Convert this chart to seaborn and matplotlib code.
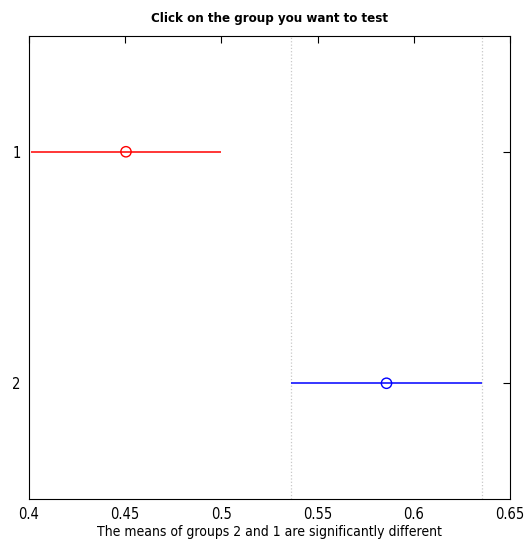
import pandas as pd
import seaborn as sns
import matplotlib.pyplot as plt
from matplotlib import font_manager

groups = [1, 2]
means = [0.4504, 0.5858]
half_width = [0.0496, 0.0497]
colors = ["#ff0000", "#0000ff"]

title = "Click on the group you want to test"
xlabel = "The means of groups 2 and 1 are significantly different"
xticks = [0.4, 0.45, 0.5, 0.55, 0.6, 0.65]
xtick_labels = ["0.4", "0.45", "0.5", "0.55", "0.6", "0.65"]

df = pd.DataFrame({"group": groups, "mean": means, "hw": half_width})
df["lo"] = df["mean"] - df["hw"]
df["hi"] = df["mean"] + df["hw"]

sns.set_style("white")

# MATLAB draws this with a narrow Arial-like face; use one if installed
names = {f.name for f in font_manager.fontManager.ttflist}
stretch = "normal"
if "Liberation Sans Narrow" in names:
    family = "Liberation Sans Narrow"
elif any(f.name == "DejaVu Sans" and f.stretch == "condensed"
         for f in font_manager.fontManager.ttflist):
    family = "DejaVu Sans"
    stretch = "condensed"
else:
    family = "Liberation Sans"
plt.rcParams["font.family"] = [family, "DejaVu Sans"]
plt.rcParams["font.stretch"] = stretch
plt.rcParams["text.color"] = "black"

fig = plt.figure(figsize=(5.31, 5.48), dpi=100)
ax = fig.add_axes([0.0546, 0.0894, 0.9059, 0.8449])

# comparison interval of the selected group (group 2)
sel = df[df["group"] == 2].iloc[0]
for xv in (sel["lo"], sel["hi"]):
    ax.axvline(xv, color="#c8c8c8", linestyle=":", linewidth=0.9, zorder=1)

for (_, row), c in zip(df.iterrows(), colors):
    ax.hlines(row["group"], row["lo"], row["hi"], color=c, linewidth=1.1, zorder=2)

sns.scatterplot(data=df, x="mean", y="group", hue="group", palette=colors,
                ax=ax, s=55, marker="o", legend=False, zorder=3, linewidth=1.0)
pts = ax.collections[-1]
pts.set_edgecolors(colors)
pts.set_facecolors("none")

ax.set_xlim(0.4, 0.65)
ax.set_ylim(2.5, 0.5)
ax.set_xticks(xticks)
ax.set_xticklabels(xtick_labels)
ax.set_yticks(groups)
ax.set_yticklabels([str(g) for g in groups])
ax.tick_params(direction="in", length=5, width=0.8, top=True, right=True,
               labelsize=10.5, colors="black", labelcolor="black", pad=6)
for sp in ax.spines.values():
    sp.set_color("black")
    sp.set_linewidth(0.8)

ax.set_xlabel(xlabel, fontsize=10, labelpad=2, color="black")
ax.set_ylabel("")
ax.set_title(title, fontsize=9.5, fontweight="bold", pad=10, color="black")

fig.savefig("out.png", dpi=100)
